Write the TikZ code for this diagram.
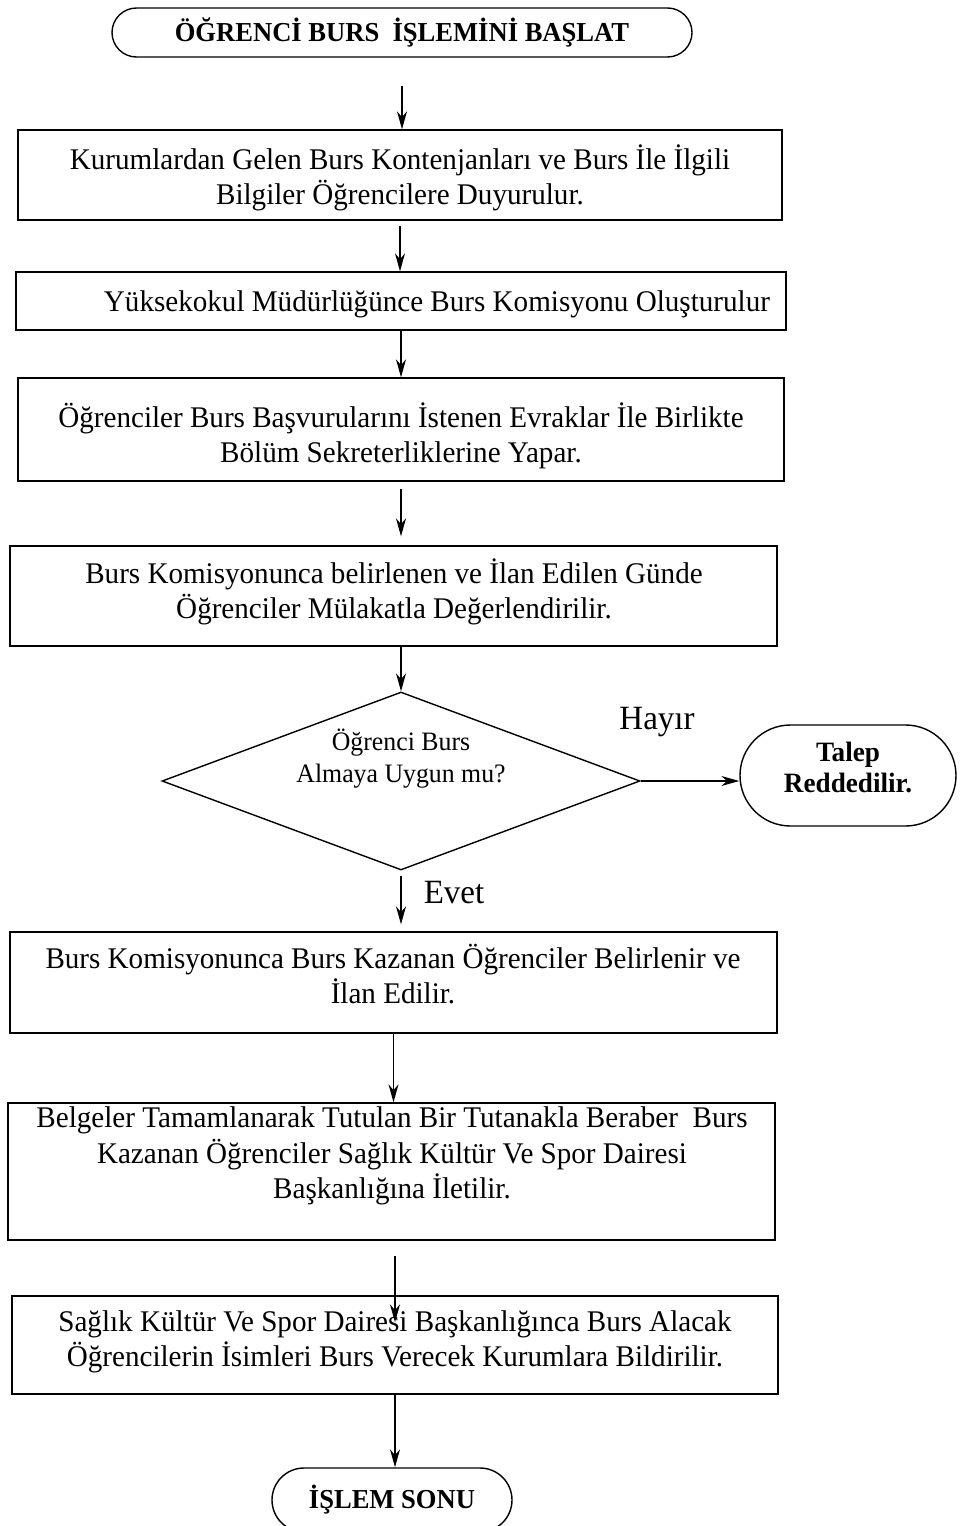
\documentclass[tikz,border=0pt]{standalone}
\usepackage{fontspec}
\setmainfont{Liberation Serif}[FakeStretch=0.97]
\usetikzlibrary{shapes.geometric,shapes.misc,arrows.meta}
\tikzset{
kutu/.style={draw,rectangle,line width=0.7pt,inner sep=0pt},
karar/.style={draw,diamond,line width=0.7pt,inner sep=0pt},
uc/.style={draw,rounded rectangle,line width=0.7pt,inner sep=0pt,font=\fontsize{13.7}{16}\selectfont\bfseries},
yazi/.style={align=center,font=\fontsize{15}{17.8}\selectfont},
ok/.style={-{Stealth[length=9pt,width=5pt]},line width=0.7pt}
}
\begin{document}
\begin{tikzpicture}[x=0.5pt,y=-0.5pt]
\useasboundingbox[fill=white] (0,0) rectangle (960,1526);
% kutular
\node[uc,minimum width=290pt,minimum height=24.5pt] (basla) at (402,32.5) {ÖĞRENCİ BURS \ İŞLEMİNİ BAŞLAT};
\node[kutu,minimum width=382pt,minimum height=45pt] (k1) at (400,175) {};
\node[yazi] (y1) at (400,178) {Kurumlardan Gelen Burs Kontenjanları ve Burs İle İlgili\\Bilgiler Öğrencilere Duyurulur.};
\node[kutu,minimum width=385pt,minimum height=29pt] (k2) at (401,301) {};
\node[yazi] (y2) at (437,304) {Yüksekokul Müdürlüğünce Burs Komisyonu Oluşturulur};
\node[kutu,minimum width=383pt,minimum height=51.5pt] (k3) at (401,429.5) {};
\node[yazi] (y3) at (401,436) {Öğrenciler Burs Başvurularını İstenen Evraklar İle Birlikte\\Bölüm Sekreterliklerine Yapar.};
\node[kutu,minimum width=383.5pt,minimum height=50pt] (k4) at (393.5,596) {};
\node[yazi] (y4) at (394,592) {Burs Komisyonunca belirlenen ve İlan Edilen Günde\\Öğrenciler Mülakatla Değerlendirilir.};
\node[karar,minimum width=239pt,minimum height=89pt] (karar) at (401,781) {};
\node[align=center,font=\fontsize{13.3}{16}\selectfont] (soru) at (401,759) {Öğrenci Burs\\Almaya Uygun mu?};
\node[uc,minimum width=108pt,minimum height=50.5pt] (red) at (848,775.5) {};
\node[align=center,font=\fontsize{14}{15.5}\selectfont\bfseries] (redy) at (848,767.5) {Talep\\Reddedilir.};
\node[kutu,minimum width=383.5pt,minimum height=50.5pt] (k5) at (393.5,982.5) {};
\node[yazi] (y5) at (393,974) {Burs Komisyonunca Burs Kazanan Öğrenciler Belirlenir ve\\İlan Edilir.};
\node[kutu,minimum width=383.5pt,minimum height=68.5pt] (k6) at (391.5,1171.5) {};
\node[yazi] (y6) at (392,1156) {Belgeler Tamamlanarak Tutulan Bir Tutanakla Beraber \ Burs\\Kazanan Öğrenciler Sağlık Kültür Ve Spor Dairesi\\Başkanlığına İletilir.};
\node[kutu,minimum width=383pt,minimum height=49pt] (k7) at (395,1345) {};
\node[yazi] (y7) at (395,1342) {Sağlık Kültür Ve Spor Dairesi Başkanlığınca Burs Alacak\\Öğrencilerin İsimleri Burs Verecek Kurumlara Bildirilir.};
\node[uc,minimum width=120pt,minimum height=32pt] (son) at (392,1500) {İŞLEM SONU};
% oklar
\draw[ok,shorten <=14pt] (basla.south) -- (basla.south |- k1.north);
\draw[ok,shorten <=2.5pt] (k1.south) -- (k1.south |- k2.north);
\draw[ok] (k2.south) -- (k2.south |- k3.north);
\draw[ok,shorten <=3.5pt,shorten >=4.5pt] (k3.south) -- (k3.south |- k4.north);
\draw[ok] (karar.north |- k4.south) -- (karar.north);
\draw[ok] (karar.east) -- (karar.east -| red.west);
\draw[ok,shorten <=2.5pt,shorten >=3.5pt] (karar.south) -- (karar.south |- k5.north);
\draw[ok] (k5.south) -- (k5.south |- k6.north);
\draw[ok,shorten <=7.5pt,shorten >=-13.5pt] ([xshift=1.75pt]k6.south) -- ([xshift=1.75pt]k6.south |- k7.north);
\draw[ok] (k7.south) -- (k7.south |- son.north);
% etiketler
\node[font=\fontsize{17}{20}\selectfont] (hayir) at (657,722) {Hayır};
\node[font=\fontsize{17}{20}\selectfont] (evet) at (454,893) {Evet};
\end{tikzpicture}
\end{document}
